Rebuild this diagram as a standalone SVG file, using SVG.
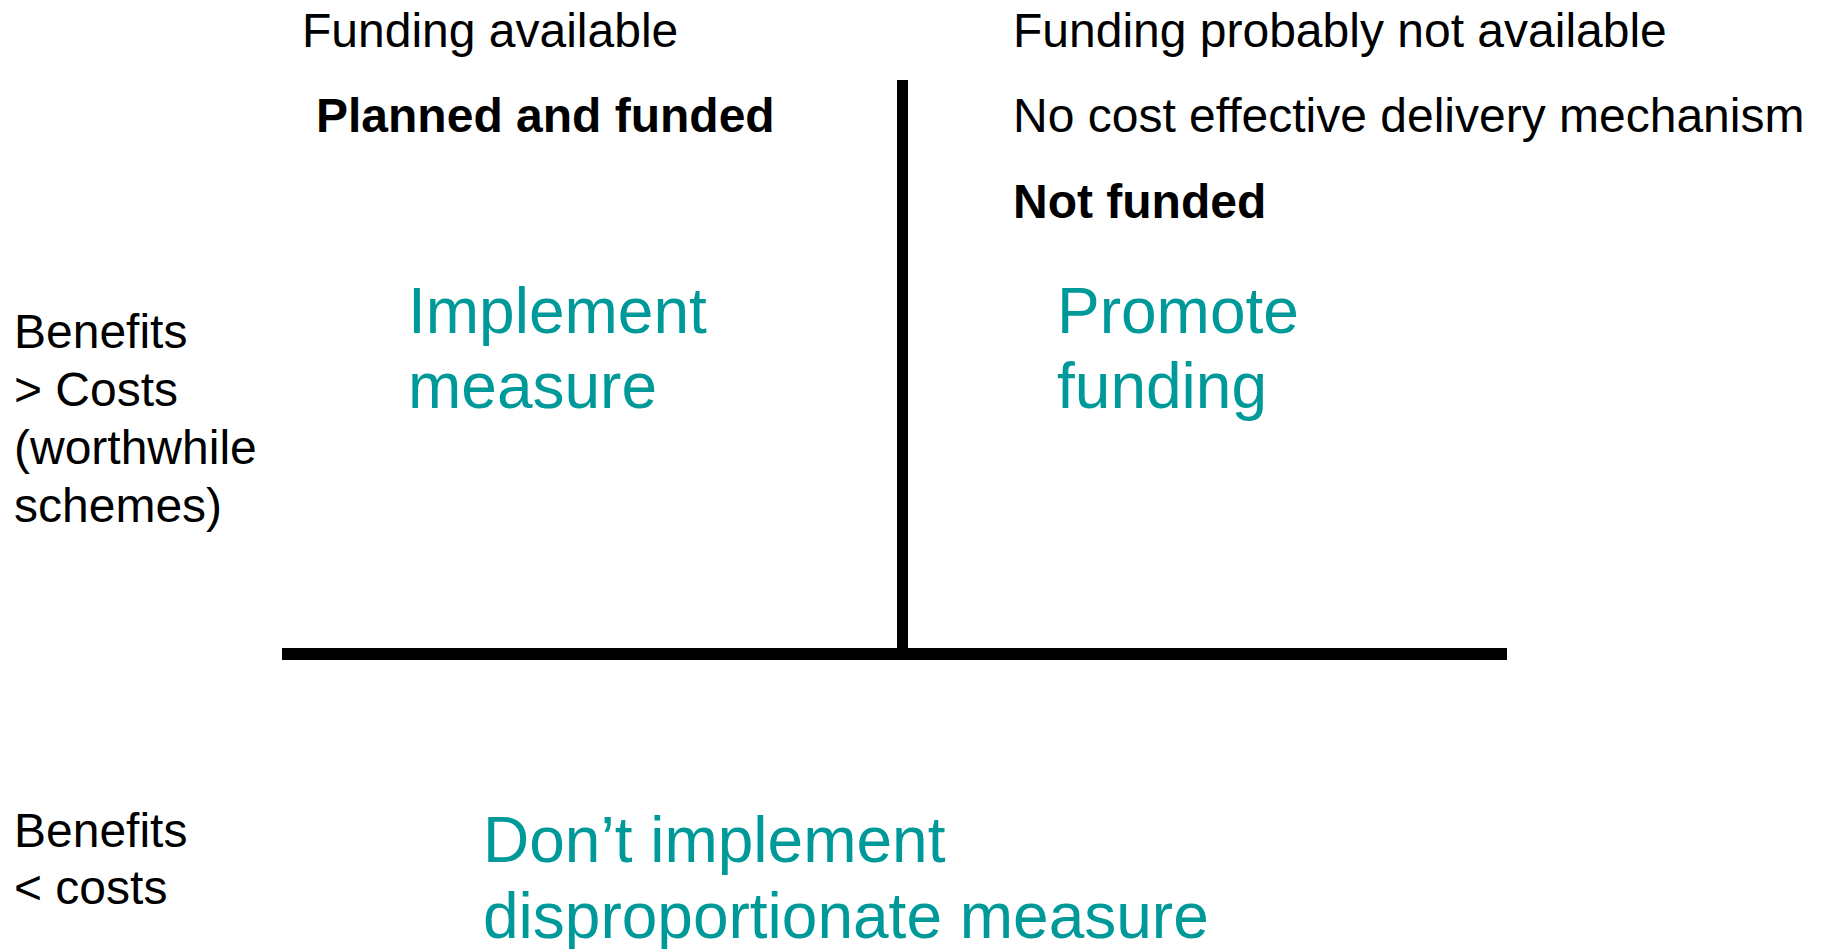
<svg xmlns="http://www.w3.org/2000/svg" width="1822" height="949" viewBox="0 0 1822 949">
<style>
text{font-family:"Liberation Sans",Arial,sans-serif;}
.lbl{font-size:48px;fill:#000;}
.b{font-weight:bold;}
.act{font-size:64px;fill:#009999;}
.axis{fill:#000;}
</style>
<rect width="1822" height="949" fill="#fff"/>
<g id="connectors">
<rect class="axis" x="897" y="80" width="11" height="574"/>
<rect class="axis" x="282" y="648" width="1225" height="12"/>
</g>
<g id="col-funding-available">
<text class="lbl" x="302" y="47">Funding available</text>
</g>
<g id="col-funding-not-available">
<text class="lbl" x="1013" y="47">Funding probably not available</text>
</g>
<g id="planned-funded">
<text class="lbl b" x="316" y="132">Planned and funded</text>
</g>
<g id="no-cost-effective">
<text class="lbl" x="1013" y="132">No cost effective delivery mechanism</text>
<text class="lbl b" x="1013" y="218">Not funded</text>
</g>
<g id="row-benefits-gt-costs">
<text class="lbl" x="14" y="348">Benefits</text>
<text class="lbl" x="14" y="406">&gt; Costs</text>
<text class="lbl" x="14" y="464">(worthwhile</text>
<text class="lbl" x="14" y="522">schemes)</text>
</g>
<g id="row-benefits-lt-costs">
<text class="lbl" x="14" y="847">Benefits</text>
<text class="lbl" x="14" y="904">&lt; costs</text>
</g>
<g id="implement-measure">
<text class="act" x="408" y="333">Implement</text>
<text class="act" x="408" y="408">measure</text>
</g>
<g id="promote-funding">
<text class="act" x="1057" y="333">Promote</text>
<text class="act" x="1057" y="408">funding</text>
</g>
<g id="dont-implement">
<text class="act" x="483" y="862">Don’t implement</text>
<text class="act" x="483" y="938">disproportionate measure</text>
</g>
</svg>
